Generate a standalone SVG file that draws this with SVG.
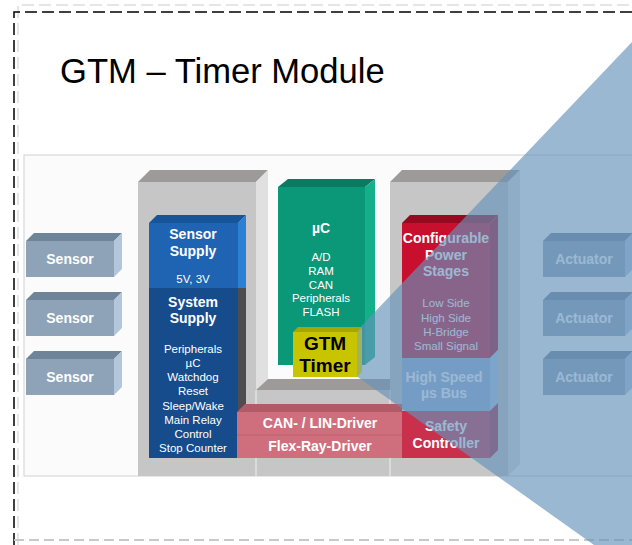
<svg xmlns="http://www.w3.org/2000/svg" width="632" height="545" viewBox="0 0 632 545">
<style>
text{font-family:"Liberation Sans",Arial,sans-serif;text-anchor:middle;fill:#fff}
.b{font-weight:bold;font-size:14px}
.s{font-size:11.5px}
.colF{fill:#c6c6c6}.colT{fill:#9e9a9a}.colS{fill:#e0e0e0}
.snF{fill:#8ea3b8}.snT{fill:#6e8499}.snS{fill:#b2c6dc}
</style>
<rect width="632" height="545" fill="#fff"/>
<g id="frame">
<path d="M18,545 V5 H632" fill="none" stroke="#e6e6e6" stroke-width="2" stroke-dasharray="12 5"/>
<path d="M14,545 V12 H632" fill="none" stroke="#000" stroke-width="1.5" stroke-dasharray="12 5"/>
<path d="M14,540 H632" fill="none" stroke="#c8c8c8" stroke-width="2" stroke-dasharray="10 5"/>
</g>
<text id="title" x="60" y="83" style="font-size:34.6px;fill:#000;text-anchor:start">GTM – Timer Module</text>
<rect id="panel" x="24" y="155" width="640" height="321" fill="#fafbfa" stroke="#d2d2d2"/>

<g id="column-left">
<rect class="colF" x="138" y="182" width="118" height="294"/>
<polygon class="colT" points="138,182 150,170 268,170 256,182"/>
<polygon class="colS" points="256,182 268,170 268,379 256,390"/>
</g>
<g id="column-right">
<rect class="colF" x="390" y="182" width="118" height="294"/>
<polygon class="colT" points="390,182 402,170 520,170 508,182"/>
<polygon class="colS" points="508,182 520,170 520,464 508,476"/>
</g>
<g id="column-bottom">
<polygon class="colT" points="256,390 268,379 390,379 390,390"/>
<rect class="colF" x="256" y="390" width="134" height="86"/>
<path d="M256,390 V476 M390,390 V476" stroke="#e2e2e2" stroke-width="1.5"/>
</g>

<g id="sensor1">
<polygon class="snT" points="26,241 34,233 122,233 114,241"/>
<polygon class="snS" points="114,241 122,233 122,269 114,277"/>
<rect class="snF" x="26" y="241" width="88" height="36"/>
<text class="b" x="70" y="264">Sensor</text>
</g>
<g id="sensor2">
<polygon class="snT" points="26,300 34,292 122,292 114,300"/>
<polygon class="snS" points="114,300 122,292 122,328 114,336"/>
<rect class="snF" x="26" y="300" width="88" height="36"/>
<text class="b" x="70" y="323">Sensor</text>
</g>
<g id="sensor3">
<polygon class="snT" points="26,359 34,351 122,351 114,359"/>
<polygon class="snS" points="114,359 122,351 122,387 114,395"/>
<rect class="snF" x="26" y="359" width="88" height="36"/>
<text class="b" x="70" y="382">Sensor</text>
</g>

<g id="sensor-supply">
<polygon fill="#18549a" points="149,223 157,215 246,215 238,223"/>
<polygon fill="#2b80d4" points="238,223 246,215 246,288 238,288"/>
<rect fill="#1f63b3" x="149" y="223" width="89" height="65"/>
<text class="b" x="193" y="239">Sensor</text>
<text class="b" x="193" y="256">Supply</text>
<text class="s" x="193" y="283">5V, 3V</text>
</g>
<g id="system-supply">
<rect fill="#4d4d50" x="238" y="288" width="8" height="124"/>
<rect fill="#164c8c" x="149" y="288" width="89" height="170"/>
<text class="b" x="193" y="307">System</text>
<text class="b" x="193" y="323">Supply</text>
<text class="s" x="193" y="353">Peripherals</text>
<text class="s" x="193" y="367">µC</text>
<text class="s" x="193" y="381">Watchdog</text>
<text class="s" x="193" y="395">Reset</text>
<text class="s" x="193" y="410">Sleep/Wake</text>
<text class="s" x="193" y="424">Main Relay</text>
<text class="s" x="193" y="438">Control</text>
<text class="s" x="193" y="452">Stop Counter</text>
</g>

<g id="uc">
<polygon fill="#0a7a60" points="278,187 288,179 375,179 365,187"/>
<polygon fill="#14b08a" points="365,187 375,179 375,357 365,365"/>
<rect fill="#0a9878" x="278" y="187" width="87" height="178"/>
<text class="b" x="321" y="233">µC</text>
<text class="s" x="321" y="261">A/D</text>
<text class="s" x="321" y="275">RAM</text>
<text class="s" x="321" y="289">CAN</text>
<text class="s" x="321" y="302">Peripherals</text>
<text class="s" x="321" y="316">FLASH</text>
</g>

<g id="power-stages">
<polygon fill="#950a20" points="402,223 410,215 498,215 490,223"/>
<polygon fill="#a80c26" points="490,223 498,215 498,350 490,358"/>
<rect fill="#c8102e" x="402" y="223" width="88" height="135"/>
<text class="b" x="446" y="243">Configurable</text>
<text class="b" x="446" y="260">Power</text>
<text class="b" x="446" y="276">Stages</text>
<text class="s" x="446" y="307">Low Side</text>
<text class="s" x="446" y="322">High Side</text>
<text class="s" x="446" y="336">H-Bridge</text>
<text class="s" x="446" y="350">Small Signal</text>
</g>
<g id="high-speed-bus">
<polygon fill="#a9c5e6" points="490,358 498,350 498,403 490,411"/>
<rect fill="#8fb0d8" x="402" y="358" width="88" height="53"/>
<text class="b" x="444" y="382">High Speed</text>
<text class="b" x="444" y="398">µs Bus</text>
</g>
<g id="safety-controller">
<polygon fill="#a82840" points="490,411 498,403 498,450 490,458"/>
<rect fill="#c8304c" x="402" y="411" width="88" height="47"/>
<text class="b" x="446" y="431">Safety</text>
<text class="b" x="446" y="448">Controller</text>
</g>
<g id="can-lin-driver">
<polygon fill="#b35a68" points="237,412 245,404 402,404 402,412"/>
<rect fill="#cf6f7d" x="237" y="412" width="165" height="23"/>
<text class="b" x="320" y="428">CAN- / LIN-Driver</text>
</g>
<g id="flexray-driver">
<rect fill="#cf6f7d" x="237" y="435" width="165" height="23"/>
<line x1="237" y1="435" x2="402" y2="435" stroke="#bd6070"/>
<text class="b" x="320" y="451">Flex-Ray-Driver</text>
</g>

<g id="actuator1">
<polygon class="snT" points="543,241 551,233 633,233 625,241"/>
<polygon class="snS" points="625,241 633,233 633,269 625,277"/>
<rect class="snF" x="543" y="241" width="82" height="36"/>
<text class="b" x="584" y="264">Actuator</text>
</g>
<g id="actuator2">
<polygon class="snT" points="543,300 551,292 633,292 625,300"/>
<polygon class="snS" points="625,300 633,292 633,328 625,336"/>
<rect class="snF" x="543" y="300" width="82" height="36"/>
<text class="b" x="584" y="323">Actuator</text>
</g>
<g id="actuator3">
<polygon class="snT" points="543,359 551,351 633,351 625,359"/>
<polygon class="snS" points="625,359 633,351 633,387 625,395"/>
<rect class="snF" x="543" y="359" width="82" height="36"/>
<text class="b" x="584" y="382">Actuator</text>
</g>

<polygon id="zoom-triangle" points="331,358 632,42 632,545 594,545" fill="#6592bb" fill-opacity="0.65"/>

<g id="gtm-timer">
<polygon fill="#a8a400" points="293,332 298,327 362,327 357,332"/>
<polygon fill="#9cb462" points="357,332 362,327 362,372 357,377"/>
<rect fill="#c8c400" x="293" y="332" width="64" height="45"/>
<text x="325" y="350" style="font-size:19px;font-weight:bold;fill:#000">GTM</text>
<text x="325" y="372" style="font-size:19px;font-weight:bold;fill:#000">Timer</text>
</g>
</svg>
